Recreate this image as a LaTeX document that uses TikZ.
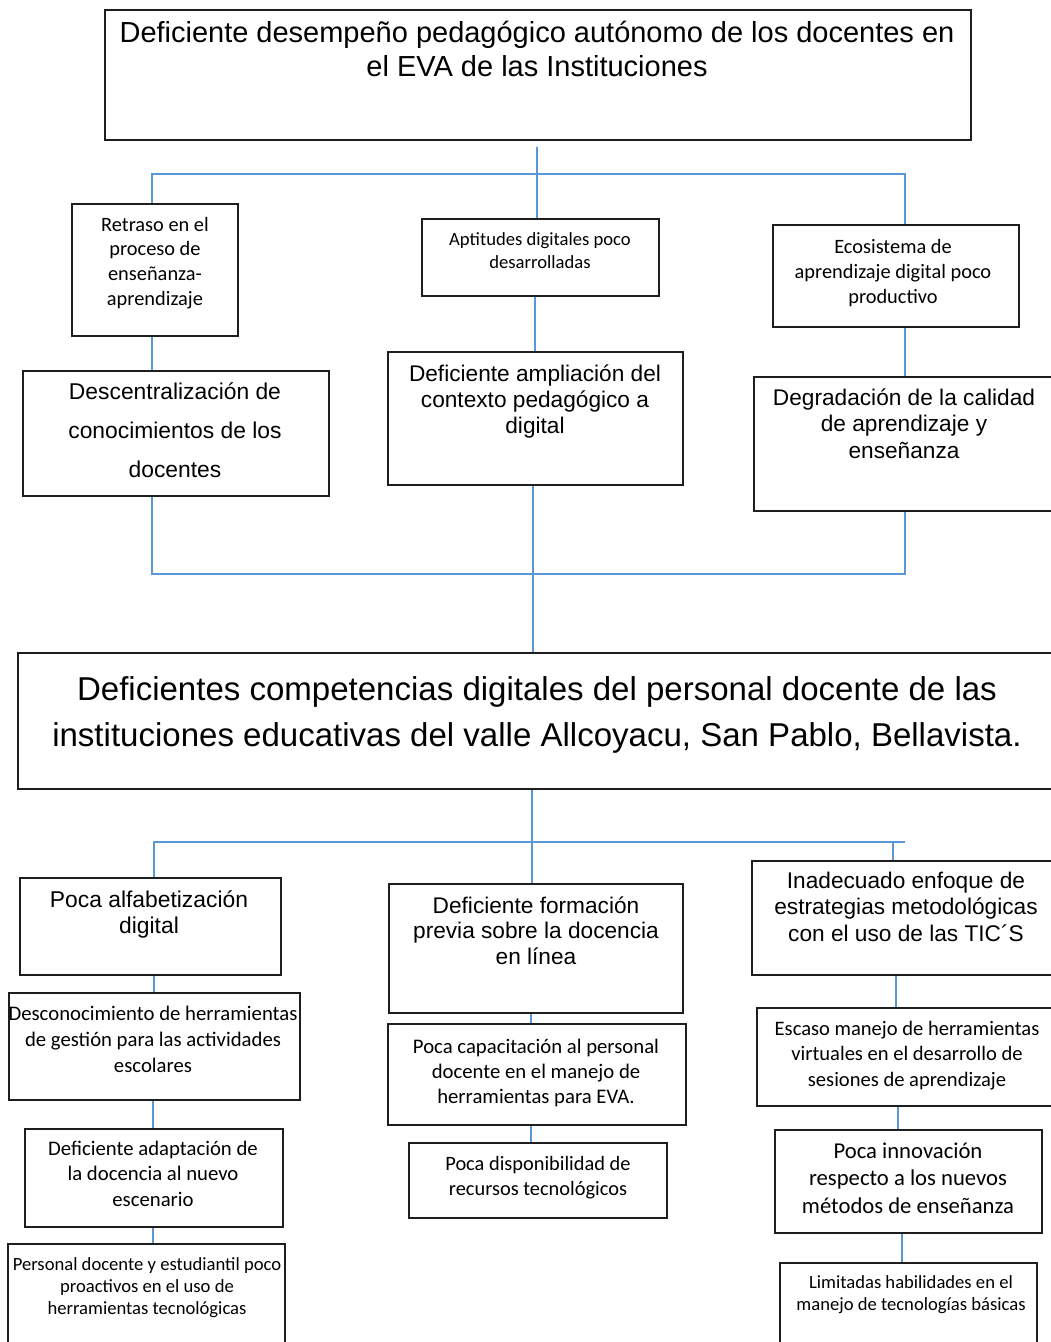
\documentclass[tikz,border=0pt]{standalone}
\usepackage{fontspec}
\setmainfont{Liberation Sans}
\newfontfamily\fa{Liberation Sans}
\newfontfamily\fc{Carlito}
\usetikzlibrary{fit}
\definecolor{conncol}{RGB}{91,150,213}
\definecolor{boxcol}{RGB}{30,30,30}
\tikzset{
  box/.style={draw=boxcol, line width=0.75pt, fill=white, inner sep=0pt, rectangle},
  conn/.style={draw=conncol, line width=1.1pt},
  txt/.style={align=center, inner sep=0pt, anchor=base, text=black}
}
\newcommand{\fA}[2]{\fa\fontsize{#1}{#2}\selectfont}
\newcommand{\fC}[2]{\fc\fontsize{#1}{#2}\selectfont}
\begin{document}
\begin{tikzpicture}[x=0.02cm,y=-0.02cm]
\useasboundingbox (0,0) rectangle (1051,1342);
\clip (0,0) rectangle (1051,1342);
\fill[white] (0,0) rectangle (1051,1342);

\coordinate (tstub) at (537,147);
\coordinate (h1L) at (152,174);
\coordinate (h1R) at (905,174);
\coordinate (h2L) at (152,574);
\coordinate (h2R) at (905,574);
\coordinate (h3L) at (154,842);
\coordinate (h3R) at (905,842);
\coordinate (h3D) at (893,842);

% ---------- boxes ----------
\node[box, fit={(105,10) (971,140)}] (title) {};
\node[box, fit={(72,204) (238,336)}] (ret) {};
\node[box, fit={(422,219) (659,296)}] (apt) {};
\node[box, fit={(773,225) (1019,327)}] (eco) {};
\node[box, fit={(23,371) (329,496)}] (desc) {};
\node[box, fit={(388,352) (683,485)}] (ampl) {};
\node[box, fit={(754,377) (1062,511)}] (degr) {};
\node[box, fit={(18,653) (1062,789)}] (central) {};
\node[box, fit={(20,878) (281,975)}] (alf) {};
\node[box, fit={(9,993) (300,1100)}] (descon) {};
\node[box, fit={(25,1129) (283,1227)}] (adap) {};
\node[box, fit={(8,1244) (285,1352)}] (pers) {};
\node[box, fit={(389,884) (683,1013)}] (form) {};
\node[box, fit={(388,1024) (686,1125)}] (capa) {};
\node[box, fit={(409,1143) (667,1218)}] (disp) {};
\node[box, fit={(752,861) (1062,975)}] (inad) {};
\node[box, fit={(757,1008) (1062,1106)}] (escaso) {};
\node[box, fit={(775,1130) (1042,1233)}] (innov) {};
\node[box, fit={(780,1263) (1037,1352)}] (lim) {};

% ---------- connectors ----------
\draw[conn] (ret.north -| h1L) -- (h1L) -- (h1R) -- (eco.north -| h1R);
\draw[conn] (tstub) -- (apt.north -| tstub);
\draw[conn] (ret.south -| h1L) -- (desc.north -| h1L);
\draw[conn] (apt.south -| 535,0) -- (ampl.north -| 535,0);
\draw[conn] (eco.south -| h1R) -- (degr.north -| h1R);
\draw[conn] (desc.south -| h2L) -- (h2L) -- (h2R) -- (degr.south -| h2R);
\draw[conn] (ampl.south -| 533,0) -- (central.north -| 533,0);
\draw[conn] (central.south -| 532,0) -- (form.north -| 532,0);
\draw[conn] (alf.north -| h3L) -- (h3L) -- (h3R);
\draw[conn] (h3D) -- (inad.north -| h3D);
\draw[conn] (alf.south -| 154,0) -- (descon.north -| 154,0);
\draw[conn] (descon.south -| 153,0) -- (adap.north -| 153,0);
\draw[conn] (adap.south -| 153,0) -- (pers.north -| 153,0);
\draw[conn] (form.south -| 531,0) -- (capa.north -| 531,0);
\draw[conn] (capa.south -| 531,0) -- (disp.north -| 531,0);
\draw[conn] (inad.south -| 896,0) -- (escaso.north -| 896,0);
\draw[conn] (escaso.south -| 898,0) -- (innov.north -| 898,0);
\draw[conn] (innov.south -| 902,0) -- (lim.north -| 902,0);

% ---------- texts (anchor = baseline of last line) ----------
\node[txt, font={\fA{16.5}{19.3}}] (tTitle) at (537,76) {Deficiente desempeño pedagógico autónomo de los docentes en\\el EVA de las Instituciones};
\node[txt, font={\fC{11.6}{14}}] (tRet) at (155,305) {Retraso en el\\proceso de\\enseñanza-\\aprendizaje};
\node[txt, font={\fC{10.6}{13}}] (tApt) at (540,268) {Aptitudes digitales poco\\desarrolladas};
\node[txt, font={\fC{11.6}{14.2}}] (tEco) at (893,303) {Ecosistema de\\aprendizaje digital poco\\productivo};
\node[txt, font={\fA{13}{22.1}}] (tDesc) at (175,477) {Descentralización de\\conocimientos de los\\docentes};
\node[txt, font={\fA{12.9}{14.7}}] (tAmpl) at (535,433) {Deficiente ampliación del\\contexto pedagógico a\\digital};
\node[txt, font={\fA{12.9}{15}}] (tDegr) at (904,458) {Degradación de la calidad\\de aprendizaje y\\enseñanza};
\node[txt, font={\fA{18.8}{26}}] (tCentral) at (537,746) {Deficientes competencias digitales del personal docente de las\\instituciones educativas del valle Allcoyacu, San Pablo, Bellavista.};
\node[txt, font={\fA{13}{14.7}}] (tAlf) at (149,933) {Poca alfabetización\\digital};
\node[txt, font={\fC{11.8}{14.7}}] (tDescon) at (153,1072) {Desconocimiento de herramientas\\de gestión para las actividades\\escolares};
\node[txt, font={\fC{11.8}{14.5}}] (tAdap) at (153,1206) {Deficiente adaptación de\\la docencia al nuevo\\escenario};
\node[txt, font={\fC{10.6}{12.5}}] (tPers) at (147,1314) {Personal docente y estudiantil poco\\proactivos en el uso de\\herramientas tecnológicas};
\node[txt, font={\fA{12.9}{14.5}}] (tForm) at (536,964) {Deficiente formación\\previa sobre la docencia\\en línea};
\node[txt, font={\fC{11.8}{14.2}}] (tCapa) at (536,1103) {Poca capacitación al personal\\docente en el manejo de\\herramientas para EVA.};
\node[txt, font={\fC{11.6}{14.2}}] (tDisp) at (538,1195) {Poca disponibilidad de\\recursos tecnológicos};
\node[txt, font={\fA{12.9}{15}}] (tInad) at (906,941) {Inadecuado enfoque de\\estrategias metodológicas\\con el uso de las TIC´S};
\node[txt, font={\fC{11.7}{14.5}}] (tEscaso) at (907,1086) {Escaso manejo de herramientas\\virtuales en el desarrollo de\\sesiones de aprendizaje};
\node[txt, font={\fC{12.9}{15.6}}] (tInnov) at (908,1213) {Poca innovación\\respecto a los nuevos\\métodos de enseñanza};
\node[txt, font={\fC{10.6}{12.5}}] (tLim) at (911,1310) {Limitadas habilidades en el\\manejo de tecnologías básicas};
\end{tikzpicture}
\end{document}
